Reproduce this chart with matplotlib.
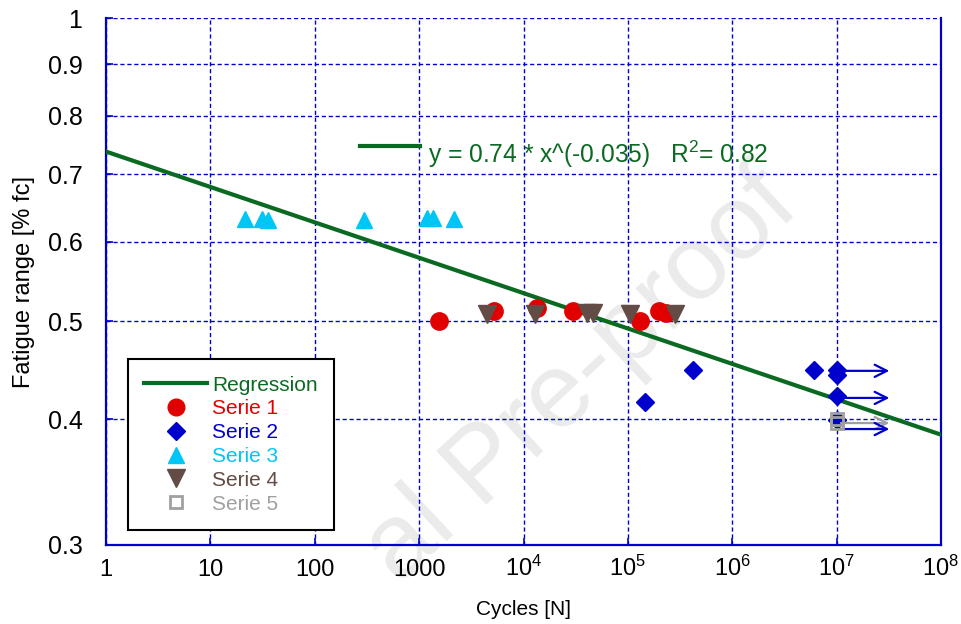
"""Fatigue range vs. number of cycles, with power-law regression."""

import matplotlib

matplotlib.use("Agg")
import matplotlib.pyplot as plt
from matplotlib import font_manager

# ---- data ------------------------------------------------------------
reg_x = [1.0, 1.0e8]
reg_y = [0.737, 0.386]

serie1_x = [1550, 5200, 13500, 30000, 130000, 200000, 230000]
serie1_y = [0.500, 0.512, 0.515, 0.512, 0.500, 0.512, 0.510]

serie2_x = [1.46e5, 4.2e5, 6.1e6, 1.0e7, 1.0e7, 1.0e7, 1.0e7]
serie2_y = [0.416, 0.4475, 0.4475, 0.4475, 0.4425, 0.4217, 0.399]

serie3_x = [21.5, 31, 36, 296, 1190, 1360, 2160]
serie3_y = [0.632, 0.632, 0.630, 0.630, 0.633, 0.633, 0.632]

serie4_x = [4470, 12900, 40600, 46300, 105000, 283000]
serie4_y = [0.509, 0.509, 0.510, 0.510, 0.509, 0.509]

serie5_x = [1.0e7, 1.0e7]
serie5_y = [0.400, 0.396]

# run-outs (arrows pointing to higher cycle counts)
runout_x0 = 1.1e7
runout_x1 = 3.2e7
runout_blue_y = [0.4466, 0.4198, 0.391]
runout_gray_y = [0.3964]

x_ticks = [1, 10, 100, 1000, 1e4, 1e5, 1e6, 1e7, 1e8]
x_ticklabels = ["1", "10", "100", "1000", r"10$^{4}$", r"10$^{5}$",
                r"10$^{6}$", r"10$^{7}$", r"10$^{8}$"]
y_ticks = [0.3, 0.4, 0.5, 0.6, 0.7, 0.8, 0.9, 1.0]
y_ticklabels = ["0.3", "0.4", "0.5", "0.6", "0.7", "0.8", "0.9", "1"]

labels = ["Regression", "Serie 1", "Serie 2", "Serie 3", "Serie 4", "Serie 5"]

# ---- style -----------------------------------------------------------
GREEN = "#0b6a22"
RED = "#e00000"
BLUE = "#0000cc"
CYAN = "#00c6f5"
BROWN = "#624c45"
GRAY = "#a0a0a0"

installed = {f.name for f in font_manager.fontManager.ttflist}
narrow = "Liberation Sans Narrow" if "Liberation Sans Narrow" in installed else "Liberation Sans"

plt.rcParams["font.family"] = ["Liberation Sans", "DejaVu Sans"]
plt.rcParams["mathtext.fontset"] = "custom"
plt.rcParams["mathtext.rm"] = narrow
plt.rcParams["mathtext.it"] = narrow

fig = plt.figure(figsize=(9.61, 6.24), dpi=100)
ax = fig.add_axes([106 / 961, 1 - 545 / 624, 835 / 961, 527 / 624])
ax.set_facecolor("none")

# watermark (only its visible part) behind everything
fig.text(0.605, 0.395, "al Pre-proof", fontsize=76, color="#ebebeb",
         rotation=43, ha="center", va="center", zorder=-5)

ax.set_xscale("log")
ax.set_yscale("log")
ax.set_xlim(1, 1e8)
ax.set_ylim(0.3, 1.0)

ax.plot(reg_x, reg_y, color=GREEN, linewidth=3.0, zorder=3)

ax.plot(serie1_x, serie1_y, "o", color=RED, markersize=12.5, zorder=4)
ax.plot(serie2_x, serie2_y, "D", color=BLUE, markersize=9, zorder=4)
ax.plot(serie3_x, serie3_y, "^", color=CYAN, markersize=12, zorder=4)
ax.plot(serie4_x, serie4_y, "v", color=BROWN, markersize=13, zorder=5)
ax.plot(serie5_x, serie5_y, "s", color=GRAY, markerfacecolor="none",
        markeredgewidth=2.0, markersize=8, zorder=6)

for y in runout_blue_y:
    ax.annotate("", xy=(runout_x1, y), xytext=(runout_x0, y),
                arrowprops=dict(arrowstyle="->", color=BLUE, lw=1.6,
                                shrinkA=0, shrinkB=0, mutation_scale=22),
                zorder=5)
for y in runout_gray_y:
    ax.annotate("", xy=(runout_x1, y), xytext=(runout_x0, y),
                arrowprops=dict(arrowstyle="->", color=GRAY, lw=1.6,
                                shrinkA=0, shrinkB=0, mutation_scale=22),
                zorder=4)

# regression equation with its own line sample
ax.plot([0.304, 0.376], [0.757, 0.757], color=GREEN, linewidth=3.0,
        transform=ax.transAxes, clip_on=False)
ax.text(0.386, 0.742, r"y = 0.74 * x^(-0.035)   R$^{\mathregular{2}}$= 0.82",
        transform=ax.transAxes, color=GREEN, fontsize=17.7, va="center",
        ha="left")

# axes, ticks, grid
ax.set_xticks(x_ticks)
ax.set_xticklabels(x_ticklabels, fontfamily=narrow, fontsize=17)
ax.set_yticks(y_ticks)
ax.set_yticklabels(y_ticklabels, fontsize=18)
ax.minorticks_off()
ax.tick_params(axis="both", direction="in", color=BLUE, length=5, width=1.2)
ax.tick_params(axis="y", pad=17)
ax.tick_params(axis="x", pad=22)
for lbl in ax.get_xticklabels():
    lbl.set_verticalalignment("baseline")

ax.grid(True, color=BLUE, linestyle=(0, (3, 2)), linewidth=1.0)
ax.set_axisbelow(True)
for side in ("left", "right", "bottom"):
    ax.spines[side].set_color(BLUE)
    ax.spines[side].set_linewidth(1.6)
ax.spines["top"].set_visible(False)

ax.set_xlabel("Cycles [N]", fontfamily=narrow, fontsize=15, labelpad=14)
ax.set_ylabel("Fatigue range [% fc]", fontsize=17, labelpad=9)

# legend
handles = [
    plt.Line2D([], [], color=GREEN, linewidth=3.0),
    plt.Line2D([], [], marker="o", color=RED, linestyle="none", markersize=12),
    plt.Line2D([], [], marker="D", color=BLUE, linestyle="none", markersize=9),
    plt.Line2D([], [], marker="^", color=CYAN, linestyle="none", markersize=12),
    plt.Line2D([], [], marker="v", color=BROWN, linestyle="none", markersize=13),
    plt.Line2D([], [], marker="s", color=GRAY, markerfacecolor="none",
               markeredgewidth=2.0, linestyle="none", markersize=8),
]
leg = ax.legend(handles, labels, loc="lower left", bbox_to_anchor=(0.026, 0.028),
                borderaxespad=0, fontsize=15, frameon=True, fancybox=False,
                framealpha=1, edgecolor="black", handlelength=3.0,
                handletextpad=0.25, labelspacing=0.23, borderpad=0.8)
leg.get_frame().set_linewidth(1.5)
for text, color in zip(leg.get_texts(), [GREEN, RED, BLUE, CYAN, BROWN, GRAY]):
    text.set_color(color)

fig.savefig("out.png", dpi=100)
